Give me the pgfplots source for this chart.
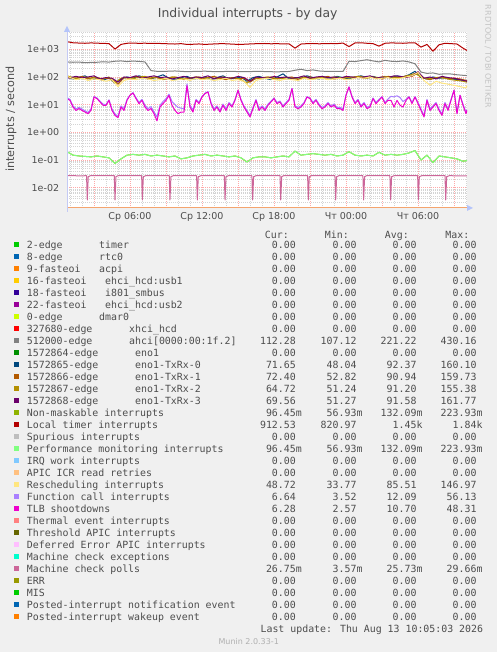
\documentclass[border=0pt]{standalone}
\usepackage{fontspec}
\setmainfont{DejaVu Sans}
\newfontfamily\monofont{DejaVu Sans Mono}
\usepackage{pgfplots}
\usepackage{pgfplotstable}
\pgfplotsset{compat=1.18}

\definecolor{bgc}{HTML}{F0F0F0}
\definecolor{txt}{HTML}{4D4D4D}
\definecolor{wm}{HTML}{C4C4C4}
\definecolor{mgrid}{HTML}{FFA8A8}
\definecolor{ngrid}{HTML}{D4D4D4}
\definecolor{axl}{HTML}{C4CAF4}
\definecolor{arr}{HTML}{B4C4FA}
\definecolor{botl}{HTML}{F4A46E}
\definecolor{c1}{HTML}{00CC00}
\definecolor{c2}{HTML}{0066B3}
\definecolor{c3}{HTML}{FF8000}
\definecolor{c4}{HTML}{FFCC00}
\definecolor{c5}{HTML}{330099}
\definecolor{c6}{HTML}{990099}
\definecolor{c7}{HTML}{CCFF00}
\definecolor{c8}{HTML}{FF0000}
\definecolor{c9}{HTML}{808080}
\definecolor{c10}{HTML}{008F00}
\definecolor{c11}{HTML}{00487D}
\definecolor{c12}{HTML}{B35A00}
\definecolor{c13}{HTML}{B38F00}
\definecolor{c14}{HTML}{6B006B}
\definecolor{c15}{HTML}{8FB300}
\definecolor{c16}{HTML}{B30000}
\definecolor{c17}{HTML}{BEBEBE}
\definecolor{c18}{HTML}{80FF80}
\definecolor{c19}{HTML}{80C9FF}
\definecolor{c20}{HTML}{FFC080}
\definecolor{c21}{HTML}{FFE680}
\definecolor{c22}{HTML}{AA80FF}
\definecolor{c23}{HTML}{EE00CC}
\definecolor{c24}{HTML}{FF8080}
\definecolor{c25}{HTML}{666600}
\definecolor{c26}{HTML}{FFBFFF}
\definecolor{c27}{HTML}{00FFCC}
\definecolor{c28}{HTML}{CC6699}
\definecolor{c29}{HTML}{999900}
\definecolor{c30}{HTML}{00CC00}
\definecolor{c31}{HTML}{0066B3}
\definecolor{c32}{HTML}{FF8000}

\newcommand\tickf{\fontsize{9.5}{11}\selectfont}
\newcommand\legf{\monofont\fontsize{9.9}{12}\selectfont}

\pgfplotstableread{
h h2 ahci tx0 tx1 tx2 tx3 nmi loc res
0.75 0.75 350 100 95 110 90 0.20 1880 105
1.25 1.50 340 85 90 95 105 0.15 1720 80
1.75 2.00 345 95 105 85 95 0.14 1680 90
2.25 2.50 330 110 85 100 100 0.135 1650 75
2.75 3.00 335 80 100 90 110 0.13 1700 85
3.25 3.50 340 90 80 95 85 0.14 1660 80
3.75 4.00 355 75 90 85 95 0.13 1640 70
4.25 4.50 345 95 85 100 90 0.12 1600 80
4.75 5.00 370 60 55 60 65 0.075 1020 45
5.25 5.50 380 85 95 90 100 0.11 1500 75
5.75 6.00 360 100 90 95 95 0.15 1650 85
6.25 6.50 375 90 105 85 110 0.16 1680 80
6.75 7.00 365 110 95 100 90 0.15 1640 90
7.25 7.50 350 95 85 105 100 0.16 1660 85
7.75 8.00 170 85 100 90 110 0.14 1620 75
8.25 8.50 160 100 90 95 95 0.15 1650 80
8.75 9.00 158 120 85 80 100 0.14 1600 90
9.25 9.50 162 90 100 95 85 0.13 1580 75
9.75 10.00 165 80 95 100 95 0.14 1550 80
10.25 10.50 160 95 80 90 105 0.11 1600 85
10.75 11.00 155 105 90 85 90 0.12 1500 75
11.25 11.50 158 85 100 95 100 0.14 1520 90
11.75 12.00 160 90 85 100 95 0.15 1560 80
12.25 12.50 162 100 95 90 110 0.16 1500 85
12.75 13.00 158 80 105 95 85 0.14 1540 75
13.25 13.50 155 95 90 85 100 0.15 1580 80
13.75 14.00 157 110 80 100 95 0.14 1600 90
14.25 14.50 160 85 95 90 90 0.13 1560 75
14.75 15.00 158 90 85 95 105 0.14 1520 80
15.25 15.50 156 100 90 80 95 0.12 1500 70
15.75 16.00 155 70 65 60 70 0.085 1540 42
16.25 16.50 158 95 90 85 100 0.12 1580 75
16.75 17.00 160 105 95 90 95 0.13 1600 85
17.25 17.50 157 90 100 95 90 0.13 1620 90
17.75 18.00 155 80 85 100 105 0.12 1580 80
18.25 18.50 153 100 90 85 95 0.13 1600 75
18.75 19.00 156 130 95 90 100 0.14 1560 85
19.25 19.50 158 85 100 95 90 0.13 1580 80
19.75 20.00 175 95 80 85 95 0.21 1100 75
20.25 20.50 190 90 95 100 110 0.15 1550 90
20.75 21.00 170 110 100 95 90 0.16 1600 80
21.25 21.50 180 95 90 85 100 0.17 1620 85
21.75 22.00 165 85 95 100 105 0.16 1580 90
22.25 22.50 160 100 105 90 95 0.15 1600 80
22.75 23.00 158 90 85 95 100 0.16 1620 85
23.25 23.50 160 105 90 100 90 0.14 1600 90
23.75 24.00 158 95 100 90 105 0.15 1680 80
24.25 24.50 370 85 95 95 100 0.20 1250 85
24.75 25.00 360 100 105 100 95 0.15 1700 95
25.25 25.50 390 110 90 105 100 0.14 1720 90
25.75 26.00 420 95 100 90 110 0.15 1650 100
26.25 26.50 380 105 95 100 90 0.14 1600 85
26.75 27.00 350 90 85 95 100 0.19 1300 90
27.25 27.50 400 100 105 105 95 0.15 1650 95
27.75 28.00 370 95 100 90 110 0.16 1700 85
28.25 28.50 360 110 95 100 105 0.15 1680 90
28.75 29.00 380 100 110 95 95 0.16 1650 100
29.25 29.50 350 120 105 115 110 0.18 1700 110
29.75 30.00 300 160 140 135 155 0.22 1720 145
30.25 30.50 150 95 90 100 90 0.10 1200 75
30.75 31.00 135 85 80 85 100 0.15 1500 50
31.25 31.50 140 100 95 90 85 0.08 850 70
31.75 32.00 125 90 100 95 105 0.14 1450 60
32.25 32.50 130 95 85 90 95 0.13 1650 55
32.75 33.00 128 85 90 80 90 0.12 1600 50
33.25 33.50 120 80 85 75 80 0.11 1550 45
33.75 34.00 115 75 75 70 72 0.09 1100 40
34.08 34.08 112.28 71.65 72.40 64.72 69.56 0.0965 912.53 48.72
}\mainT

\pgfplotstableread{
h tlb fc
0.75 16.5 18.0
1.00 14.3 15.5
1.25 8.2 9.0
1.50 6.2 7.0
1.75 7.2 8.0
2.00 6.2 7.0
2.25 5.4 6.0
2.50 4.7 5.2
2.75 6.2 7.0
3.00 18.9 19.5
3.25 16.5 17.5
3.50 12.5 13.5
3.75 9.5 10.5
4.00 9.5 10.0
4.25 14.3 15.0
4.50 6.2 7.0
4.75 4.1 4.6
5.00 3.4 3.8
5.25 8.2 9.0
5.50 6.2 7.2
5.75 14.3 15.5
6.00 21.7 22.0
6.25 26.4 27.0
6.50 16.5 18.0
6.75 10.9 12.0
7.00 14.3 15.5
7.25 8.2 9.5
7.50 6.2 7.2
7.75 7.2 8.5
8.00 4.7 5.5
8.25 2.6 3.6
8.50 8.2 9.5
8.75 10.9 13.0
9.00 14.3 16.5
9.25 21.7 24.0
9.50 9.5 13.0
9.75 6.2 10.0
10.00 4.7 8.0
10.25 5.4 7.5
10.50 5.4 7.0
10.75 48.3 56.1
11.00 8.2 9.5
11.25 5.4 6.5
11.50 14.3 15.5
11.75 10.9 12.0
12.00 18.9 20.0
12.25 25.0 26.0
12.50 28.7 29.5
12.75 10.9 12.0
13.00 6.2 7.0
13.25 8.2 9.0
13.50 5.4 6.2
13.75 9.5 10.5
14.00 6.2 7.0
14.25 10.9 12.0
14.50 8.2 9.0
14.75 14.3 15.5
15.00 33.0 33.5
15.25 14.3 15.5
15.50 8.2 9.0
15.75 5.4 6.2
16.00 3.6 4.0
16.25 7.2 8.0
16.50 14.3 15.5
16.75 6.2 7.2
17.00 8.2 9.0
17.25 6.2 7.0
17.50 9.5 10.5
17.75 12.5 13.5
18.00 16.5 17.5
18.25 10.9 12.0
18.50 12.5 13.5
18.75 8.2 9.0
19.00 10.9 12.0
19.25 14.3 15.5
19.50 37.9 38.5
19.75 8.2 9.0
20.00 7.2 8.0
20.25 8.2 9.0
20.50 10.9 12.0
20.75 18.9 19.5
21.00 16.5 17.5
21.25 10.9 12.0
21.50 14.3 15.5
21.75 9.5 10.5
22.00 7.2 8.0
22.25 8.2 9.0
22.50 10.9 12.0
22.75 8.2 9.0
23.00 9.5 10.5
23.25 7.2 8.0
23.50 7.2 8.0
23.75 6.2 7.0
24.00 21.7 22.5
24.25 43.6 44.0
24.50 18.9 20.0
24.75 10.9 12.0
25.00 14.3 15.5
25.25 8.2 9.0
25.50 10.9 12.0
25.75 7.2 8.0
26.00 8.2 9.0
26.25 16.5 17.5
26.50 10.9 12.0
26.75 14.3 15.5
27.00 18.9 19.5
27.25 10.9 12.0
27.50 14.3 16.0
27.75 14.3 20.0
28.00 8.2 19.0
28.25 14.3 21.0
28.50 9.5 18.0
28.75 8.2 13.0
29.00 14.3 15.5
29.25 18.9 19.5
29.50 10.9 12.0
29.75 18.9 19.5
30.00 10.9 12.0
30.25 6.2 7.0
30.50 3.6 4.0
30.75 14.3 15.5
31.00 6.2 7.0
31.25 8.2 9.0
31.50 10.9 12.0
31.75 6.2 7.0
32.00 4.1 4.6
32.25 10.9 12.0
32.50 6.2 7.0
32.75 14.3 15.5
33.00 33.0 33.5
33.25 4.7 5.2
33.50 21.7 22.0
33.75 9.5 10.5
34.00 4.7 5.2
34.08 6.28 6.64
}\tlbT

\newcommand\legrow[9]{%
  \fill[#2] (14,#1-6.7) rectangle (19,#1-1.7);
  \node[lgt, anchor=base west] at (26.7,#1) {#3};
  \node[lgt, anchor=base west] at (#4,#1) {#5};
  \node[lgt, anchor=base east] at (296,#1) {#6};
  \node[lgt, anchor=base east] at (356.7,#1) {#7};
  \node[lgt, anchor=base east] at (416.7,#1) {#8};
  \node[lgt, anchor=base east] at (476.7,#1) {#9};
}

\begin{document}
\begin{tikzpicture}
\useasboundingbox (0,0) rectangle (497pt,652pt);
\fill[bgc] (0,0) rectangle (497pt,652pt);

\begin{axis}[
  at={(67pt,444pt)}, anchor=south west, scale only axis,
  width=400pt, height=176pt,
  xmin=0.75, xmax=34.0833,
  ymode=log, log basis y=10, ymin=0.00185, ymax=4217,
  axis background/.style={fill=white},
  axis line style={draw=none},
  xtick={3,6,...,33},
  xticklabels={,Ср 06:00,,Ср 12:00,,Ср 18:00,,Чт 00:00,,Чт 06:00,},
  minor xtick={1,2,...,34},
  ytick={0.01,0.1,1,10,100,1000},
  yticklabels={1e-02,1e-01,1e+00,1e+01,1e+02,1e+03},
  minor ytick={0.002,0.003,0.004,0.005,0.006,0.007,0.008,0.009,
    0.02,0.03,0.04,0.05,0.06,0.07,0.08,0.09,
    0.2,0.3,0.4,0.5,0.6,0.7,0.8,0.9,
    2,3,4,5,6,7,8,9,20,30,40,50,60,70,80,90,
    200,300,400,500,600,700,800,900,2000,3000,4000},
  grid=both,
  major grid style={color=mgrid, line width=0.8pt, dash pattern=on 1pt off 1pt},
  minor grid style={color=ngrid, line width=0.8pt, dash pattern=on 1pt off 1pt},
  major tick length=0pt, minor tick length=0pt,
  ticklabel style={font=\tickf, text=txt},
  xticklabel style={anchor=north, inner sep=0pt, yshift=-4pt},
  yticklabel style={anchor=east, inner sep=0pt, xshift=-7.7pt},
  every axis plot/.append style={line width=1pt, line join=round},
  after end axis/.code={
    \draw[botl, line width=1pt] (rel axis cs:0,0) -- (rel axis cs:1,0);
    \draw[axl, line width=1pt] ([yshift=-4pt]rel axis cs:0,0) -- ([yshift=1pt]rel axis cs:0,1);
    \fill[arr] ([xshift=0pt,yshift=-3pt]rel axis cs:1,0) -- ([xshift=6pt]rel axis cs:1,0) -- ([xshift=0pt,yshift=3pt]rel axis cs:1,0) -- cycle;
    \fill[arr] ([xshift=-3pt]rel axis cs:0,1) -- ([yshift=6pt]rel axis cs:0,1) -- ([xshift=3pt]rel axis cs:0,1) -- cycle;
  },
]
\addplot[c9] table[x=h,y=ahci]{\mainT};
\addplot[c11] table[x=h,y=tx0]{\mainT};
\addplot[c12] table[x=h2,y=tx1]{\mainT};
\addplot[c13] table[x=h,y=tx2]{\mainT};
\addplot[c14] table[x=h2,y=tx3]{\mainT};
\addplot[c15] table[x=h,y=nmi]{\mainT};
\addplot[c16] table[x=h,y=loc]{\mainT};
\addplot[c18] table[x=h,y=nmi]{\mainT};
\addplot[c21] table[x=h2,y=res]{\mainT};
\addplot[c22] table[x=h,y=fc]{\tlbT};
\addplot[c23] table[x=h,y=tlb]{\tlbT};
\addplot[c28] coordinates {(0.75,0.0271) (1.2,0.0276) (1.6,0.0268) (2.38,0.0271) (2.44,0.0036) (2.52,0.025) (2.7,0.0271)
 (4.69,0.0271) (4.75,0.0036) (4.83,0.025) (5.0,0.0271)
 (6.97,0.0271) (7.03,0.0036) (7.11,0.025) (7.3,0.0271)
 (9.27,0.0271) (9.33,0.0036) (9.41,0.025) (9.6,0.0271)
 (11.55,0.0271) (11.61,0.0036) (11.69,0.025) (11.9,0.0271)
 (13.86,0.0271) (13.92,0.0036) (14.0,0.025) (14.2,0.0271)
 (16.16,0.0271) (16.22,0.0036) (16.30,0.025) (16.5,0.0271)
 (18.50,0.0271) (18.56,0.0036) (18.64,0.025) (18.8,0.0271)
 (20.80,0.0271) (20.86,0.0036) (20.94,0.025) (21.1,0.0271)
 (23.08,0.0271) (23.14,0.0036) (23.22,0.025) (23.4,0.0271)
 (25.41,0.0271) (25.47,0.0036) (25.55,0.025) (25.7,0.0271)
 (27.66,0.0271) (27.72,0.0036) (27.80,0.025) (28.0,0.0271)
 (29.97,0.0271) (30.03,0.0036) (30.11,0.025) (30.3,0.0271)
 (32.25,0.0271) (32.31,0.0036) (32.39,0.025) (32.6,0.0271)
 (34.08,0.02675)};
\end{axis}

\begin{scope}[shift={(0,652pt)}, x=1pt, y=-1pt, lgt/.style={inner sep=0pt, font=\legf, text=txt}]
\node[anchor=base, inner sep=0pt, font=\fontsize{12.4}{14}\selectfont, text=txt] at (247.7,18) {Individual interrupts - by day};
\node[rotate=90, inner sep=0pt, font=\fontsize{11.2}{13}\selectfont, text=txt] at (11,119) {interrupts / second};
\node[rotate=-90, inner sep=0pt, font=\fontsize{8}{9}\selectfont, text=wm] at (488,56.5) {RRDTOOL / TOBI OETIKER};

\node[lgt, anchor=base east] at (289,238.3) {Cur:};
\node[lgt, anchor=base east] at (349,238.3) {Min:};
\node[lgt, anchor=base east] at (409,238.3) {Avg:};
\node[lgt, anchor=base east] at (469.5,238.3) {Max:};

\legrow{248.7}{c1}{2-edge}{99}{timer}{0.00}{0.00}{0.00}{0.00}
\legrow{260.7}{c2}{8-edge}{99}{rtc0}{0.00}{0.00}{0.00}{0.00}
\legrow{272.7}{c3}{9-fasteoi}{99}{acpi}{0.00}{0.00}{0.00}{0.00}
\legrow{284.7}{c4}{16-fasteoi}{105}{ehci\_hcd:usb1}{0.00}{0.00}{0.00}{0.00}
\legrow{296.7}{c5}{18-fasteoi}{105}{i801\_smbus}{0.00}{0.00}{0.00}{0.00}
\legrow{308.7}{c6}{22-fasteoi}{105}{ehci\_hcd:usb2}{0.00}{0.00}{0.00}{0.00}
\legrow{320.7}{c7}{0-edge}{99}{dmar0}{0.00}{0.00}{0.00}{0.00}
\legrow{332.7}{c8}{327680-edge}{129}{xhci\_hcd}{0.00}{0.00}{0.00}{0.00}
\legrow{344.7}{c9}{512000-edge}{129}{ahci[0000:00:1f.2]}{112.28}{107.12}{221.22}{430.16}
\legrow{356.7}{c10}{1572864-edge}{135}{eno1}{0.00}{0.00}{0.00}{0.00}
\legrow{368.7}{c11}{1572865-edge}{135}{eno1-TxRx-0}{71.65}{48.04}{92.37}{160.10}
\legrow{380.7}{c12}{1572866-edge}{135}{eno1-TxRx-1}{72.40}{52.82}{90.94}{159.73}
\legrow{392.7}{c13}{1572867-edge}{135}{eno1-TxRx-2}{64.72}{51.24}{91.20}{155.38}
\legrow{404.7}{c14}{1572868-edge}{135}{eno1-TxRx-3}{69.56}{51.27}{91.58}{161.77}
\legrow{416.7}{c15}{Non-maskable interrupts}{0}{}{96.45\rlap{m}}{56.93\rlap{m}}{132.09\rlap{m}}{223.93\rlap{m}}
\legrow{428.7}{c16}{Local timer interrupts}{0}{}{912.53}{820.97}{1.45\rlap{k}}{1.84\rlap{k}}
\legrow{440.7}{c17}{Spurious interrupts}{0}{}{0.00}{0.00}{0.00}{0.00}
\legrow{452.7}{c18}{Performance monitoring interrupts}{0}{}{96.45\rlap{m}}{56.93\rlap{m}}{132.09\rlap{m}}{223.93\rlap{m}}
\legrow{464.7}{c19}{IRQ work interrupts}{0}{}{0.00}{0.00}{0.00}{0.00}
\legrow{476.7}{c20}{APIC ICR read retries}{0}{}{0.00}{0.00}{0.00}{0.00}
\legrow{488.7}{c21}{Rescheduling interrupts}{0}{}{48.72}{33.77}{85.51}{146.97}
\legrow{500.7}{c22}{Function call interrupts}{0}{}{6.64}{3.52}{12.09}{56.13}
\legrow{512.7}{c23}{TLB shootdowns}{0}{}{6.28}{2.57}{10.70}{48.31}
\legrow{524.7}{c24}{Thermal event interrupts}{0}{}{0.00}{0.00}{0.00}{0.00}
\legrow{536.7}{c25}{Threshold APIC interrupts}{0}{}{0.00}{0.00}{0.00}{0.00}
\legrow{548.7}{c26}{Deferred Error APIC interrupts}{0}{}{0.00}{0.00}{0.00}{0.00}
\legrow{560.7}{c27}{Machine check exceptions}{0}{}{0.00}{0.00}{0.00}{0.00}
\legrow{572.7}{c28}{Machine check polls}{0}{}{26.75\rlap{m}}{3.57\rlap{m}}{25.73\rlap{m}}{29.66\rlap{m}}
\legrow{584.7}{c29}{ERR}{0}{}{0.00}{0.00}{0.00}{0.00}
\legrow{596.7}{c30}{MIS}{0}{}{0.00}{0.00}{0.00}{0.00}
\legrow{608.7}{c31}{Posted-interrupt notification event}{0}{}{0.00}{0.00}{0.00}{0.00}
\legrow{620.7}{c32}{Posted-interrupt wakeup event}{0}{}{0.00}{0.00}{0.00}{0.00}

\node[lgt, anchor=base east] at (483.3,632.7) {Last update: Thu Aug 13 10:05:03 2026};
\node[anchor=base, inner sep=0pt, font=\fontsize{8}{9}\selectfont, text=wm!90!black] at (248.7,644) {Munin 2.0.33-1};
\end{scope}
\end{tikzpicture}
\end{document}
